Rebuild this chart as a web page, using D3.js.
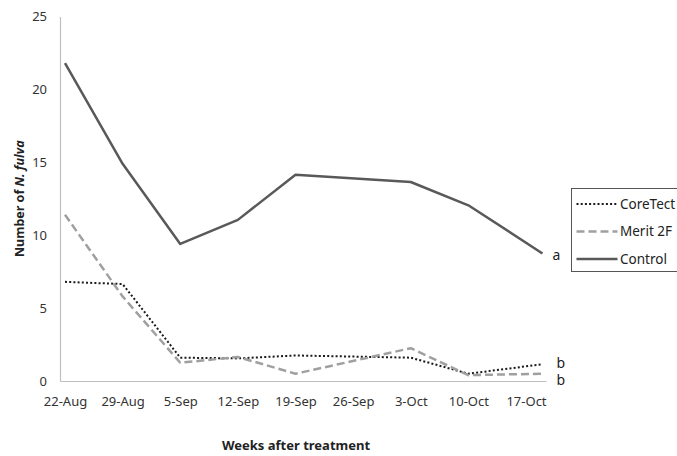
<!DOCTYPE html>
<html>
<head>
<meta charset="utf-8">
<script src="https://cdn.jsdelivr.net/npm/d3@7"></script>
<style>
  html, body { margin: 0; padding: 0; background: #fff; }
  svg { display: block; font-family: "Noto Sans", "Open Sans", sans-serif; }
</style>
</head>
<body>
<svg id="chart" width="677" height="456"></svg>
<script>
// ---- data ----
const tickLabels = ["22-Aug", "29-Aug", "5-Sep", "12-Sep", "19-Sep", "26-Sep", "3-Oct", "10-Oct", "17-Oct"];
const tickDays   = [0, 7, 14, 21, 28, 35, 42, 49, 56];           // days after 22-Aug
const sampleDays = [0, 7, 14, 21, 28, 42, 49, 58];               // sampling dates (days after 22-Aug)
const coreTect   = [6.8, 6.65, 1.6, 1.55, 1.75, 1.6, 0.5, 1.15];
const merit2F    = [11.4, 5.8, 1.25, 1.65, 0.5, 2.25, 0.4, 0.5];
const control    = [21.8, 14.9, 9.4, 11.05, 14.15, 13.65, 12.05, 8.75];
const seriesNames = ["CoreTect", "Merit 2F", "Control"];
const seriesLetters = ["b", "b", "a"];
const yTicks = [0, 5, 10, 15, 20, 25];

const series = [
  { name: seriesNames[0], values: coreTect, letter: seriesLetters[0], color: "#1a1a1a", width: 2, dash: "2,2.2", lx: 14, ly: 3.5 },
  { name: seriesNames[1], values: merit2F,  letter: seriesLetters[1], color: "#a0a0a0", width: 2.5, dash: "8,4", lx: 14, ly: 11.5 },
  { name: seriesNames[2], values: control,  letter: seriesLetters[2], color: "#595959", width: 2.5, dash: null, lx: 10, ly: 6.5 }
];

const svg = d3.select("#chart");

const x = d3.scaleLinear().domain([-0.607, 58.43]).range([60, 546]);
const y = d3.scaleLinear().domain([0, 25]).range([381, 16.5]);

// axes
const yAxis = svg.append("g")
  .attr("transform", `translate(${x.range()[0]},0)`)
  .call(d3.axisLeft(y).tickValues(yTicks).tickSize(0).tickPadding(13));
const xAxis = svg.append("g")
  .attr("transform", `translate(0,${y.range()[0]})`)
  .call(d3.axisBottom(x).tickValues(tickDays).tickFormat((d, i) => tickLabels[i]).tickSize(0).tickPadding(16));

[yAxis, xAxis].forEach(g => {
  g.select(".domain").attr("stroke", "#bfbfbf").attr("stroke-width", 1.2);
  g.selectAll("text").attr("fill", "#333").style("font-size", "13px")
    .style("font-family", "'Noto Sans', sans-serif");
});

// lines
const line = d3.line().x((d, i) => x(sampleDays[i])).y(d => y(d));
series.forEach(s => {
  svg.append("path")
    .datum(s.values)
    .attr("fill", "none")
    .attr("stroke", s.color)
    .attr("stroke-width", s.width)
    .attr("stroke-dasharray", s.dash)
    .attr("stroke-linejoin", "round")
    .attr("d", line);
});

// significance letters at line ends
const lastIdx = sampleDays.length - 1;
series.forEach(s => {
  svg.append("text")
    .attr("x", x(sampleDays[lastIdx]) + s.lx)
    .attr("y", y(s.values[lastIdx]) + s.ly)
    .attr("fill", "#222")
    .style("font-size", "14px")
    .text(s.letter);
});

// axis titles
svg.append("text")
  .attr("transform", `translate(24,${(y(0) + y(25)) / 2}) rotate(-90)`)
  .attr("text-anchor", "middle")
  .attr("fill", "#222")
  .style("font-size", "12.5px")
  .style("font-weight", "bold")
  .call(t => {
    t.append("tspan").text("Number of ");
    t.append("tspan").style("font-style", "italic").text("N. fulva");
  });

svg.append("text")
  .attr("x", 296)
  .attr("y", 450)
  .attr("text-anchor", "middle")
  .attr("fill", "#222")
  .style("font-size", "13px")
  .style("font-weight", "bold")
  .text("Weeks after treatment");

// legend
const legend = svg.append("g").attr("transform", "translate(571.5,188.5)");
legend.append("rect")
  .attr("width", 130).attr("height", 83)
  .attr("fill", "#fff").attr("stroke", "#555").attr("stroke-width", 1);
series.forEach((s, i) => {
  const cy = 15.5 + i * 27.5;
  legend.append("line")
    .attr("x1", 5).attr("x2", 46).attr("y1", cy).attr("y2", cy)
    .attr("stroke", s.color).attr("stroke-width", s.width)
    .attr("stroke-dasharray", s.dash);
  legend.append("text")
    .attr("x", 48.5).attr("y", cy + 4.8)
    .attr("fill", "#222")
    .style("font-size", "13.5px")
    .text(s.name);
});
</script>
</body>
</html>
